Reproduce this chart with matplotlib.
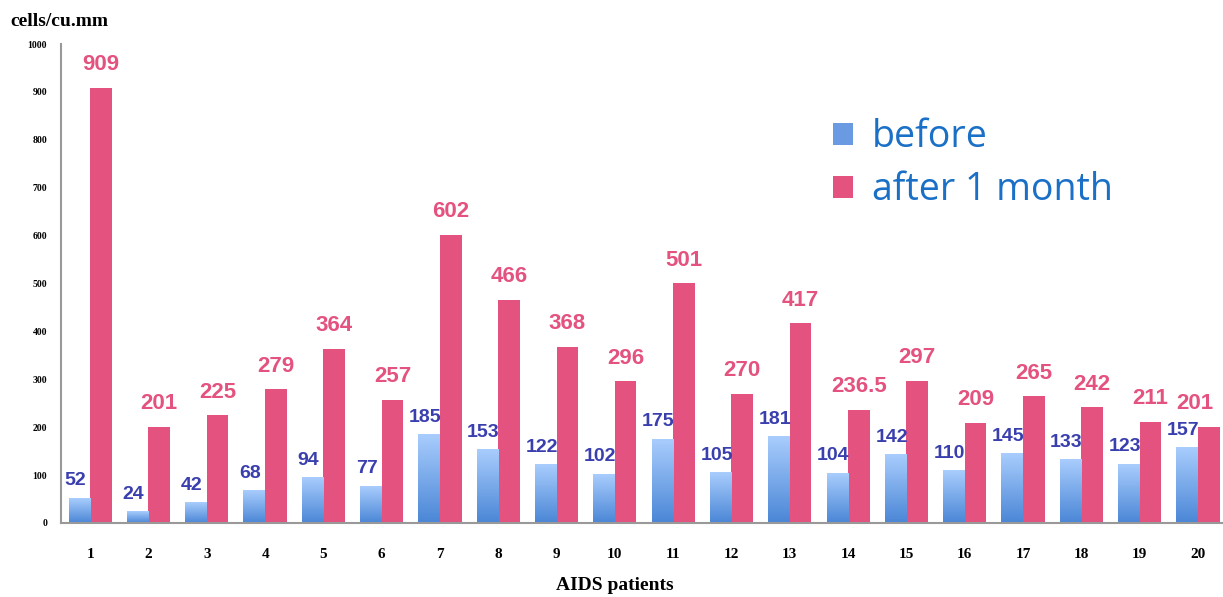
import numpy as np
import matplotlib
matplotlib.use('Agg')
import matplotlib.pyplot as plt
from matplotlib.colors import LinearSegmentedColormap
from matplotlib.patches import Patch

# data
patients = list(range(1, 21))
before = [52, 24, 42, 68, 94, 77, 185, 153, 122, 102,
          175, 105, 181, 104, 142, 110, 145, 133, 123, 157]
after = [909, 201, 225, 279, 364, 257, 602, 466, 368, 296,
         501, 270, 417, 236.5, 297, 209, 265, 242, 211, 201]
after_labels = ['909', '201', '225', '279', '364', '257', '602', '466', '368', '296',
                '501', '270', '417', '236.5', '297', '209', '265', '242', '211', '201']
yticks = [0, 100, 200, 300, 400, 500, 600, 700, 800, 900, 1000]

pink = '#e4527f'
blue_text = '#3a3fae'
legend_text = '#1a70c6'

fig = plt.figure(figsize=(12.23, 5.97), dpi=100)
ax = fig.add_axes([61 / 1223, 1 - 523 / 597, 1 - 61 / 1223, (523 - 44) / 597])

x = np.array(patients, dtype=float)
w = 0.37

b_bars = ax.bar(x - w / 2, before, w, color='none', edgecolor='none', zorder=2)
a_bars = ax.bar(x + w / 2, after, w, color=pink, edgecolor='none', zorder=2)

# gradient fill for the "before" bars
cmap = LinearSegmentedColormap.from_list('bl', ['#4a86d6', '#a9cdfd'])
grad = np.linspace(0, 1, 256).reshape(-1, 1)
for bar in b_bars:
    x0 = bar.get_x()
    ax.imshow(grad, extent=[x0, x0 + bar.get_width(), 0, bar.get_height()],
              origin='lower', aspect='auto', cmap=cmap, zorder=2)

# value labels
for bar, v in zip(b_bars, before):
    ax.text(bar.get_x() + bar.get_width() / 2 - 0.07, v + 36, str(v),
            ha='center', va='center', fontsize=14, fontweight='bold',
            color=blue_text, family='Liberation Sans', zorder=3)
for i, (bar, v, lab) in enumerate(zip(a_bars, after, after_labels)):
    if i == len(after) - 1:
        xt, ha = bar.get_x() + bar.get_width() - 0.1, 'right'
    else:
        xt, ha = bar.get_x() + bar.get_width() / 2, 'center'
    ax.text(xt, v + 48, lab, ha=ha, va='center', fontsize=16, fontweight='bold',
            color=pink, family='Liberation Sans', zorder=3)

ax.set_xlim(0.5, 20.43)
ax.set_ylim(0, 1000)
ax.set_xticks(x)
ax.set_xticklabels([str(p) for p in patients], fontsize=11, fontweight='bold',
                   family='Liberation Serif')
ax.set_yticks(yticks)
ax.set_yticklabels([str(t) for t in yticks], fontsize=7, fontweight='bold',
                   family='Liberation Serif')
ax.tick_params(axis='x', length=0, pad=18)
ax.tick_params(axis='y', length=0, pad=10)

for s in ['top', 'right']:
    ax.spines[s].set_visible(False)
for s in ['left', 'bottom']:
    ax.spines[s].set_color('#999999')
    ax.spines[s].set_linewidth(1.5)

fig.text(10 / 1223, 1 - 22 / 597, 'cells/cu.mm', fontsize=14, fontweight='bold',
         family='Liberation Serif', va='center', ha='left')
fig.text(615 / 1223, 1 - 585 / 597, 'AIDS patients', fontsize=14, fontweight='bold',
         family='Liberation Serif', va='center', ha='center')

handles = [Patch(facecolor='#6a9ae2', edgecolor='none'),
           Patch(facecolor=pink, edgecolor='none')]
ax.legend(handles, ['before', 'after 1 month'], loc='upper left',
          bbox_to_anchor=(0.635, 0.915), frameon=False,
          labelcolor=legend_text, handlelength=0.55, handleheight=0.55,
          handletextpad=0.5, labelspacing=0.4, prop={'family': 'Open Sans', 'size': 27})

plt.savefig('out.png', dpi=100)
